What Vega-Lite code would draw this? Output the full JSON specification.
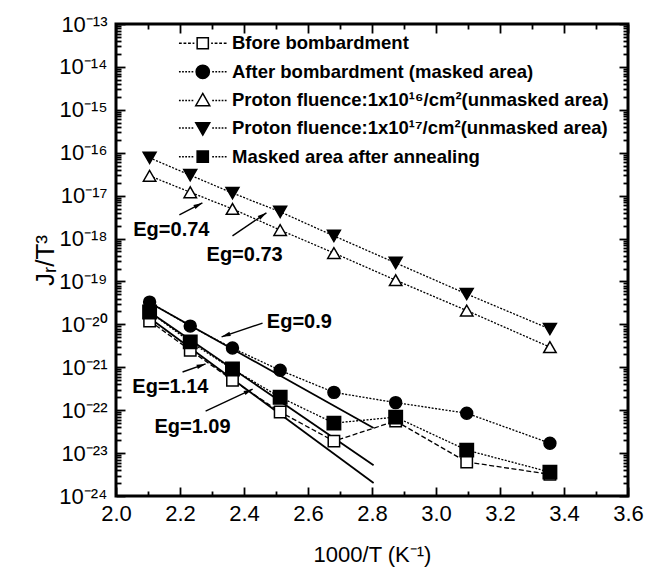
{
  "$schema": "https://vega.github.io/schema/vega-lite/v6.json",
  "width": 512,
  "height": 472,
  "autosize": {"type": "none"},
  "padding": {"left": 116, "top": 24, "right": 17, "bottom": 76},
  "background": "white",
  "config": {
    "font": "Liberation Sans",
    "view": {"stroke": "black", "strokeWidth": 3},
    "axis": {"domain": false, "grid": false, "tickColor": "black", "tickWidth": 1.8, "labelColor": "black", "titleColor": "black", "labelFont": "Liberation Sans", "titleFont": "Liberation Sans", "labelFontSize": 22, "titleFontWeight": "normal"}
  },
  "datasets": {
    "pts": [
      {"series": "Bfore bombardment", "x": 2.105, "y": 1.2e-20},
      {"series": "Bfore bombardment", "x": 2.232, "y": 2.5e-21},
      {"series": "Bfore bombardment", "x": 2.364, "y": 5.0e-22},
      {"series": "Bfore bombardment", "x": 2.513, "y": 9.1e-23},
      {"series": "Bfore bombardment", "x": 2.681, "y": 1.9e-23},
      {"series": "Bfore bombardment", "x": 2.874, "y": 5.6e-23},
      {"series": "Bfore bombardment", "x": 3.096, "y": 6.2e-24},
      {"series": "Bfore bombardment", "x": 3.356, "y": 3.2e-24},
      {"series": "After bombardment (masked area)", "x": 2.105, "y": 3.3e-20},
      {"series": "After bombardment (masked area)", "x": 2.232, "y": 9.1e-21},
      {"series": "After bombardment (masked area)", "x": 2.364, "y": 2.8e-21},
      {"series": "After bombardment (masked area)", "x": 2.513, "y": 8.5e-22},
      {"series": "After bombardment (masked area)", "x": 2.681, "y": 2.6e-22},
      {"series": "After bombardment (masked area)", "x": 2.874, "y": 1.5e-22},
      {"series": "After bombardment (masked area)", "x": 3.096, "y": 8.5e-23},
      {"series": "After bombardment (masked area)", "x": 3.356, "y": 1.7e-23},
      {"series": "Proton fluence:1x10¹⁶/cm²(unmasked area)", "x": 2.105, "y": 2.9e-17},
      {"series": "Proton fluence:1x10¹⁶/cm²(unmasked area)", "x": 2.232, "y": 1.2e-17},
      {"series": "Proton fluence:1x10¹⁶/cm²(unmasked area)", "x": 2.364, "y": 4.9e-18},
      {"series": "Proton fluence:1x10¹⁶/cm²(unmasked area)", "x": 2.513, "y": 1.58e-18},
      {"series": "Proton fluence:1x10¹⁶/cm²(unmasked area)", "x": 2.681, "y": 4.6e-19},
      {"series": "Proton fluence:1x10¹⁶/cm²(unmasked area)", "x": 2.874, "y": 1.07e-19},
      {"series": "Proton fluence:1x10¹⁶/cm²(unmasked area)", "x": 3.096, "y": 2.1e-20},
      {"series": "Proton fluence:1x10¹⁶/cm²(unmasked area)", "x": 3.356, "y": 2.95e-21},
      {"series": "Proton fluence:1x10¹⁷/cm²(unmasked area)", "x": 2.105, "y": 7.6e-17},
      {"series": "Proton fluence:1x10¹⁷/cm²(unmasked area)", "x": 2.232, "y": 3.0e-17},
      {"series": "Proton fluence:1x10¹⁷/cm²(unmasked area)", "x": 2.364, "y": 1.15e-17},
      {"series": "Proton fluence:1x10¹⁷/cm²(unmasked area)", "x": 2.513, "y": 4.2e-18},
      {"series": "Proton fluence:1x10¹⁷/cm²(unmasked area)", "x": 2.681, "y": 1.15e-18},
      {"series": "Proton fluence:1x10¹⁷/cm²(unmasked area)", "x": 2.874, "y": 2.7e-19},
      {"series": "Proton fluence:1x10¹⁷/cm²(unmasked area)", "x": 3.096, "y": 5.1e-20},
      {"series": "Proton fluence:1x10¹⁷/cm²(unmasked area)", "x": 3.356, "y": 7.8e-21},
      {"series": "Masked area after annealing", "x": 2.105, "y": 1.95e-20},
      {"series": "Masked area after annealing", "x": 2.232, "y": 3.9e-21},
      {"series": "Masked area after annealing", "x": 2.364, "y": 9.1e-22},
      {"series": "Masked area after annealing", "x": 2.513, "y": 2.0e-22},
      {"series": "Masked area after annealing", "x": 2.681, "y": 5.0e-23},
      {"series": "Masked area after annealing", "x": 2.874, "y": 6.9e-23},
      {"series": "Masked area after annealing", "x": 3.096, "y": 1.17e-23},
      {"series": "Masked area after annealing", "x": 3.356, "y": 3.6e-24}
    ],
    "fits": [
      {"fit": "0.9", "x": 2.105, "y": 3.2e-20},
      {"fit": "0.9", "x": 2.805, "y": 3.85e-23},
      {"fit": "1.14", "x": 2.105, "y": 1.95e-20},
      {"fit": "1.14", "x": 2.805, "y": 5.2e-24},
      {"fit": "1.09", "x": 2.105, "y": 1.41e-20},
      {"fit": "1.09", "x": 2.805, "y": 2.0e-24}
    ],
    "notes": [
      {"label": "Eg=0.74", "x": 2.173, "y": 1.58e-18},
      {"label": "Eg=0.73", "x": 2.402, "y": 4.2e-19},
      {"label": "Eg=0.9", "x": 2.573, "y": 1.14e-20},
      {"label": "Eg=1.14", "x": 2.170, "y": 3.47e-22},
      {"label": "Eg=1.09", "x": 2.239, "y": 4.07e-23}
    ],
    "arrows": [
      {"x": 2.198, "y": 3.55e-18, "x2": 2.270, "y2": 6.76e-18},
      {"x": 2.364, "y": 1.15e-18, "x2": 2.470, "y2": 3.98e-18},
      {"x": 2.458, "y": 1.07e-20, "x2": 2.330, "y2": 5.13e-21},
      {"x": 2.208, "y": 7.76e-22, "x2": 2.280, "y2": 1.2e-21},
      {"x": 2.280, "y": 9.55e-23, "x2": 2.427, "y2": 3.09e-22}
    ]
  },
  "layer": [
    {
      "data": {"name": "fits"},
      "mark": {"type": "line", "color": "black", "strokeWidth": 1.8},
      "encoding": {
        "x": {"field": "x", "type": "quantitative", "scale": {"domain": [2.0, 3.6], "nice": false, "zero": false},
          "axis": {"orient": "top", "labels": false, "title": null, "values": [2.0, 2.1, 2.2, 2.3, 2.4, 2.5, 2.6, 2.7, 2.8, 2.9, 3.0, 3.1, 3.2, 3.3, 3.4, 3.5, 3.6],
            "tickSize": {"condition": {"test": "round(datum.value*10) % 2 == 0", "value": -9}, "value": -5}}},
        "y": {"field": "y", "type": "quantitative", "scale": {"type": "log", "domain": [1e-24, 1e-13], "nice": false},
          "axis": {"orient": "right", "labels": false, "title": null, "tickCount": 20,
            "tickSize": {"condition": {"test": "abs(datum.value / pow(10, round(log(datum.value) / LN10)) - 1) < 0.001", "value": -9}, "value": -5}}},
        "detail": {"field": "fit"}
      }
    },
    {
      "data": {"name": "pts"},
      "mark": {"type": "line", "color": "black", "strokeWidth": 1.3},
      "encoding": {
        "x": {"field": "x", "type": "quantitative", "axis": null},
        "y": {"field": "y", "type": "quantitative", "axis": null},
        "strokeDash": {"field": "series", "type": "nominal", "legend": null,
          "scale": {"domain": ["Bfore bombardment", "After bombardment (masked area)", "Proton fluence:1x10¹⁶/cm²(unmasked area)", "Proton fluence:1x10¹⁷/cm²(unmasked area)", "Masked area after annealing"],
            "range": [[5, 2.5], [2, 1.5], [2, 1.5], [2, 1.5], [2, 1.5]]}}
      }
    },
    {
      "data": {"name": "pts"},
      "mark": {"type": "point", "filled": true, "stroke": "black", "strokeWidth": 1.5, "opacity": 1},
      "encoding": {
        "x": {"field": "x", "type": "quantitative",
          "axis": {"orient": "bottom", "title": "1000/T  (K⁻¹)", "titleFontSize": 22, "titlePadding": 16, "labelPadding": 16, "labelOverlap": false, "labelFlush": false,
            "values": [2.0, 2.1, 2.2, 2.3, 2.4, 2.5, 2.6, 2.7, 2.8, 2.9, 3.0, 3.1, 3.2, 3.3, 3.4, 3.5, 3.6],
            "labelExpr": "round(datum.value*10) % 2 == 0 ? format(datum.value, '.1f') : ''",
            "tickSize": {"condition": {"test": "round(datum.value*10) % 2 == 0", "value": -9}, "value": -5}}},
        "y": {"field": "y", "type": "quantitative",
          "axis": {"orient": "left", "title": "Jᵣ/T³", "titleFontSize": 26, "titlePadding": 0, "labelPadding": 18, "labelOverlap": false, "labelFlush": false, "tickCount": 20,
            "labelExpr": "abs(datum.value / pow(10, round(log(datum.value) / LN10)) - 1) < 0.001 ? '10⁻' + substring('⁰¹²³⁴⁵⁶⁷⁸⁹', floor(-round(log(datum.value) / LN10) / 10), floor(-round(log(datum.value) / LN10) / 10) + 1) + substring('⁰¹²³⁴⁵⁶⁷⁸⁹', (-round(log(datum.value) / LN10)) % 10, (-round(log(datum.value) / LN10)) % 10 + 1) : ''",
            "tickSize": {"condition": {"test": "abs(datum.value / pow(10, round(log(datum.value) / LN10)) - 1) < 0.001", "value": -9}, "value": -5}}},
        "shape": {"field": "series", "type": "nominal", "legend": null,
          "scale": {"domain": ["Bfore bombardment", "After bombardment (masked area)", "Proton fluence:1x10¹⁶/cm²(unmasked area)", "Proton fluence:1x10¹⁷/cm²(unmasked area)", "Masked area after annealing"],
            "range": ["square", "circle", "triangle-up", "triangle-down", "square"]}},
        "fill": {"field": "series", "type": "nominal", "legend": null,
          "scale": {"domain": ["Bfore bombardment", "After bombardment (masked area)", "Proton fluence:1x10¹⁶/cm²(unmasked area)", "Proton fluence:1x10¹⁷/cm²(unmasked area)", "Masked area after annealing"],
            "range": ["white", "black", "white", "black", "black"]}},
        "size": {"field": "series", "type": "nominal", "legend": null,
          "scale": {"domain": ["Bfore bombardment", "After bombardment (masked area)", "Proton fluence:1x10¹⁶/cm²(unmasked area)", "Proton fluence:1x10¹⁷/cm²(unmasked area)", "Masked area after annealing"],
            "range": [130, 180, 200, 200, 130]}}
      }
    },
    {
      "data": {"name": "pts"},
      "transform": [{"filter": "false"}],
      "mark": {"type": "point", "filled": false, "stroke": "black", "strokeWidth": 1.5, "opacity": 1},
      "encoding": {
        "shape": {"field": "series", "type": "nominal",
          "scale": {"domain": ["Bfore bombardment", "After bombardment (masked area)", "Proton fluence:1x10¹⁶/cm²(unmasked area)", "Proton fluence:1x10¹⁷/cm²(unmasked area)", "Masked area after annealing"],
            "range": [
              "M-3.4,0h0.4M-2.75,0h0.4M-2.1,0h0.4M-1.45,0h0.25M1.2,0h0.25M1.7,0h0.4M2.35,0h0.4M3,0h0.4M-0.8,-0.8H0.8V0.8H-0.8Z",
              "M-3.4,0h0.25M-2.95,0h0.25M-2.5,0h0.25M-2.05,0h0.25M-1.6,0h0.25M1.35,0h0.25M1.8,0h0.25M2.25,0h0.25M2.7,0h0.25M3.15,0h0.25M-0.95,0A0.95,0.95,0,1,1,0.95,0A0.95,0.95,0,1,1,-0.95,0Z",
              "M-3.4,0h0.25M-2.95,0h0.25M-2.5,0h0.25M-2.05,0h0.25M-1.6,0h0.25M1.35,0h0.25M1.8,0h0.25M2.25,0h0.25M2.7,0h0.25M3.15,0h0.25M0,-1L1,0.75L-1,0.75Z",
              "M-3.4,0h0.25M-2.95,0h0.25M-2.5,0h0.25M-2.05,0h0.25M-1.6,0h0.25M1.35,0h0.25M1.8,0h0.25M2.25,0h0.25M2.7,0h0.25M3.15,0h0.25M0,1L1,-0.75L-1,-0.75Z",
              "M-3.4,0h0.25M-2.95,0h0.25M-2.5,0h0.25M-2.05,0h0.25M-1.6,0h0.25M1.35,0h0.25M1.8,0h0.25M2.25,0h0.25M2.7,0h0.25M3.15,0h0.25M-0.8,-0.8H0.8V0.8H-0.8Z"
            ]},
          "legend": {"title": null, "orient": "none", "legendX": 77.5, "legendY": 10, "padding": 0, "symbolSize": 196, "symbolStrokeWidth": 1.5, "labelFont": "Liberation Sans", "labelFontSize": 18.5, "labelFontWeight": "bold", "labelColor": "black", "labelOffset": 20, "rowPadding": 8.6, "labelLimit": 600}},
        "fill": {"field": "series", "type": "nominal",
          "scale": {"domain": ["Bfore bombardment", "After bombardment (masked area)", "Proton fluence:1x10¹⁶/cm²(unmasked area)", "Proton fluence:1x10¹⁷/cm²(unmasked area)", "Masked area after annealing"],
            "range": ["white", "black", "white", "black", "black"]},
          "legend": {"title": null, "orient": "none", "legendX": 77.5, "legendY": 10, "padding": 0, "symbolSize": 196, "symbolStrokeWidth": 1.5, "labelFont": "Liberation Sans", "labelFontSize": 18.5, "labelFontWeight": "bold", "labelColor": "black", "labelOffset": 20, "rowPadding": 8.6, "labelLimit": 600}}
      }
    },
    {
      "data": {"name": "notes"},
      "mark": {"type": "text", "font": "Liberation Sans", "fontSize": 20, "fontWeight": "bold", "color": "black", "align": "center", "baseline": "middle"},
      "encoding": {
        "x": {"field": "x", "type": "quantitative", "axis": null},
        "y": {"field": "y", "type": "quantitative", "axis": null},
        "text": {"field": "label"}
      }
    },
    {
      "data": {"name": "arrows"},
      "mark": {"type": "rule", "color": "black", "strokeWidth": 1.4},
      "encoding": {
        "x": {"field": "x", "type": "quantitative", "axis": null},
        "y": {"field": "y", "type": "quantitative", "axis": null},
        "x2": {"field": "x2"},
        "y2": {"field": "y2"}
      }
    },
    {
      "data": {"name": "arrows"},
      "transform": [{"calculate": "atan2((datum.x2 - datum.x) * 320, (log(datum.y2) - log(datum.y)) / LN10 * 42.909) * 180 / PI", "as": "ang"}],
      "mark": {"type": "point", "shape": "M0,0L0.5,2L-0.5,2Z", "filled": true, "color": "black", "size": 81, "opacity": 1},
      "encoding": {
        "x": {"field": "x2", "type": "quantitative", "axis": null},
        "y": {"field": "y2", "type": "quantitative", "axis": null},
        "angle": {"field": "ang", "type": "quantitative", "scale": null}
      }
    }
  ],
  "resolve": {
    "axis": {"x": "independent", "y": "independent"},
    "scale": {"shape": "independent", "fill": "independent"}
  }
}
